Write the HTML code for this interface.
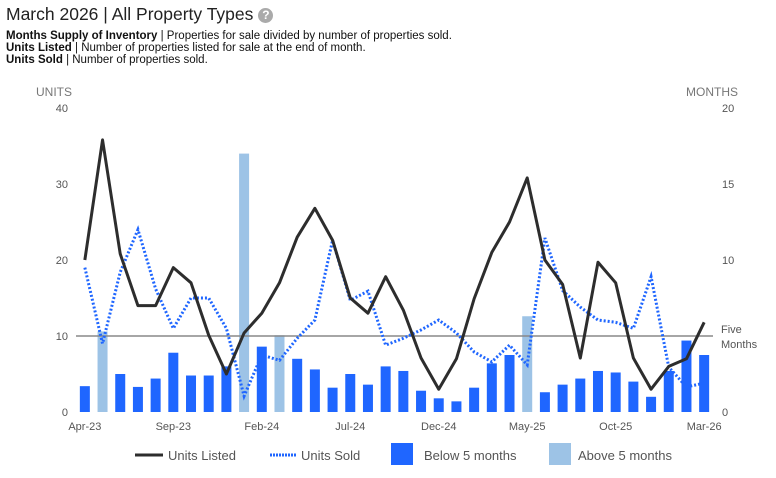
<!DOCTYPE html>
<html><head><meta charset="utf-8">
<style>
body{margin:0;background:#fff;font-family:"Liberation Sans",Arial,sans-serif;}
#wrap{position:relative;width:776px;height:478px;overflow:hidden;}
.title{position:absolute;left:6px;top:4px;font-size:17.5px;color:#222;}
.help{display:inline-block;width:15px;height:15px;border-radius:50%;background:#aaa;color:#fff;font-size:12px;font-weight:bold;text-align:center;line-height:15px;vertical-align:1px;margin-left:5px;}
.desc{position:absolute;left:6px;top:30px;font-size:11.5px;line-height:12px;color:#111;}
</style></head><body>
<div id="wrap">
<div class="title">March 2026 | All Property Types<span class="help">?</span></div>
<div class="desc">
<b>Months Supply of Inventory</b> | Properties for sale divided by number of properties sold.<br>
<b>Units Listed</b> | Number of properties listed for sale at the end of month.<br>
<b>Units Sold</b> | Number of properties sold.</div>
<svg id="chart" width="776" height="478" style="position:absolute;left:0;top:0"></svg>
</div>
<script>
const months=["Apr-23","May-23","Jun-23","Jul-23","Aug-23","Sep-23","Oct-23","Nov-23","Dec-23","Jan-24","Feb-24","Mar-24","Apr-24","May-24","Jun-24","Jul-24","Aug-24","Sep-24","Oct-24","Nov-24","Dec-24","Jan-25","Feb-25","Mar-25","Apr-25","May-25","Jun-25","Jul-25","Aug-25","Sep-25","Oct-25","Nov-25","Dec-25","Jan-26","Feb-26","Mar-26"];
const unitsListed=[20,35.8,20.8,14,14,19,17,10.1,5,10.4,13,17,23,26.8,22.6,15,13,17.8,13.4,7.1,3,7,14.9,21,25,30.8,20,16.8,7.1,19.7,17,7.1,3,6,7,11.8];
const unitsSold=[19,9,18.4,24,16.2,11,15,15,11,2.1,7.5,6.8,9.7,12.1,22.6,14.7,15.9,8.8,9.7,10.8,12.1,10.4,7.9,6.6,8.8,6.2,22.9,16,13.8,12.1,11.8,11,17.8,5.9,3.3,3.8];
const monthsSupply=[1.7,5.3,2.5,1.65,2.2,3.9,2.4,2.4,3.0,17.0,4.3,5.05,3.5,2.8,1.6,2.5,1.8,3.0,2.7,1.4,0.9,0.7,1.6,3.2,3.75,6.3,1.3,1.8,2.2,2.7,2.6,2.0,1.0,2.7,4.7,3.75];
const leftTicks=[0,10,20,30,40];
const rightTicks=[0,10,15,20];
const xLabelIdx=[0,5,10,15,20,25,30,35];
const threshold=5;

const svg=document.getElementById('chart');
const NS='http://www.w3.org/2000/svg';
const X0=76,X1=713,Y0=412,Y1=108;
const band=(X1-X0)/months.length;
const x=i=>X0+band*(i+0.5);
const yL=v=>Y0-(v/40)*(Y0-Y1);
const yR=v=>Y0-(v/20)*(Y0-Y1);
function mk(t,a){const e=document.createElementNS(NS,t);for(const k in a)e.setAttribute(k,a[k]);svg.appendChild(e);return e;}
function txt(s,a){const e=mk('text',Object.assign({'font-family':'Liberation Sans, Arial, sans-serif','font-size':11,fill:'#555'},a));e.textContent=s;return e;}

let e=txt('UNITS',{x:36,y:96,'font-size':12,fill:'#777'});

e=txt('MONTHS',{x:686,y:96,'font-size':12,fill:'#777'});

leftTicks.forEach(v=>{const t=txt(String(v),{x:68,y:yL(v)+4,'text-anchor':'end'});
});
rightTicks.forEach(v=>{const t=txt(String(v),{x:722,y:yR(v)+4});
});

monthsSupply.forEach((v,i)=>{const b=mk('rect',{x:x(i)-5,y:yR(v),width:10,height:Y0-yR(v),fill:v>threshold?'#9dc3e6':'#1f66ff'});
});

e=mk('line',{x1:X0,x2:X1,y1:yR(threshold),y2:yR(threshold),stroke:'#888','stroke-width':1.5});

e=txt('Five',{x:721,y:yR(threshold)-3});
e=txt('Months',{x:721,y:yR(threshold)+12});

e=mk('polyline',{points:unitsSold.map((v,i)=>x(i)+','+yL(v)).join(' '),fill:'none',stroke:'#1f66ff','stroke-width':3,'stroke-dasharray':'2,2'});

e=mk('polyline',{points:unitsListed.map((v,i)=>x(i)+','+yL(v)).join(' '),fill:'none',stroke:'#2d2d2d','stroke-width':3,'stroke-linejoin':'round'});


xLabelIdx.forEach(i=>{const t=txt(months[i],{x:x(i),y:430,'text-anchor':'middle'});
});

// legend
e=mk('line',{x1:135,x2:163,y1:455,y2:455,stroke:'#2d2d2d','stroke-width':3});
e=txt('Units Listed',{x:168,y:460,'font-size':13});
e=mk('line',{x1:270,x2:297,y1:455,y2:455,stroke:'#1f66ff','stroke-width':3,'stroke-dasharray':'2,1'});
e=txt('Units Sold',{x:301,y:460,'font-size':13});
e=mk('rect',{x:391,y:443,width:22,height:22,fill:'#1f66ff'});
e=txt('Below 5 months',{x:424,y:460,'font-size':13});
e=mk('rect',{x:549,y:443,width:22,height:22,fill:'#9dc3e6'});
e=txt('Above 5 months',{x:578,y:460,'font-size':13});
</script>
</body></html>
